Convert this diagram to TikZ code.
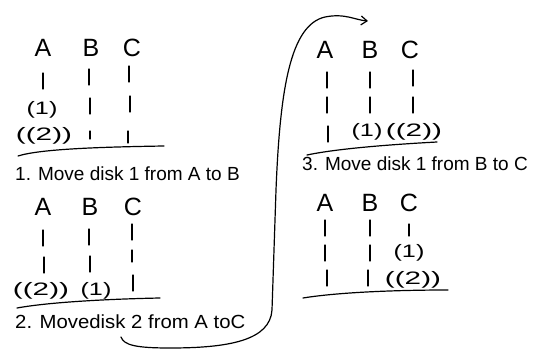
\documentclass[tikz,border=0pt]{standalone}
\usepackage{fontspec}
\setmainfont{Liberation Sans}
\usetikzlibrary{arrows.meta}
\tikzset{
  ink/.style={line width=1.2pt, line cap=round, line join=round, black},
  peglbl/.style={inner sep=0pt, font=\fontsize{25}{25}\selectfont},
  disk/.style={inner sep=0pt, font=\fontsize{18}{18}\selectfont},
  caption/.style={inner sep=0pt, anchor=west, font=\fontsize{19}{19}\selectfont},
}
\newcommand\pegbar[3][8]{\draw[ink] (#2,#3-#1) -- (#2,#3+#1);}
\newcommand\wide[2][1.4]{\scalebox{#1}[1]{#2}}
\begin{document}
\begin{tikzpicture}[x=1pt,y=-1pt]
\useasboundingbox (0,0) rectangle (539,350);
\fill[white] (0,0) rectangle (539,350);

% ---------- panel 1 ----------
\node[peglbl] (a1) at (43,48) {A};
\node[peglbl] (b1) at (91,48) {B};
\node[peglbl] (c1) at (132,48) {C};
\pegbar{43}{81}
\node[disk] (d11) at (42,110) {\wide{(1)}};
\node[disk] (d12) at (44,136) {\wide[1.65]{((2))}};
\pegbar{89}{77}
\pegbar{90}{106}
\pegbar[4]{90}{135}
\pegbar{129}{74}
\pegbar{130}{104}
\pegbar[6]{128}{137}
\draw[ink] (18,156) .. controls (40,149) and (100,147) .. (164,146);
\node[caption] (cap1) at (15,174) {1. Move disk 1 from A to B};

% ---------- panel 2 ----------
\node[peglbl] (a2) at (43,207) {A};
\node[peglbl] (b2) at (90,207) {B};
\node[peglbl] (c2) at (133,207) {C};
\pegbar{43}{238}
\pegbar{44}{265}
\pegbar{89}{237}
\pegbar{90}{264}
\pegbar{132}{232}
\pegbar[6]{132}{256}
\pegbar{133}{283}
\node[disk] (d22) at (41,291) {\wide[1.65]{((2))}};
\node[disk] (d21) at (96,291) {\wide{(1)}};
\draw[ink] (17,308) .. controls (50,302) and (110,299) .. (160,298);
\node[caption] (cap2) at (15,322) {\scalebox{1.07}[1]{2. Movedisk 2 from A toC}};

% ---------- panel 3 ----------
\node[peglbl] (a3) at (325,50) {A};
\node[peglbl] (b3) at (370,50) {B};
\node[peglbl] (c3) at (410,50) {C};
\pegbar{327}{80}
\pegbar{327}{105}
\pegbar{328}{134}
\pegbar{370}{80}
\pegbar{370}{105}
\pegbar{413}{78}
\pegbar{413}{105}
\node[disk] (d31) at (367,132) {\wide{(1)}};
\node[disk] (d32) at (414,132) {\wide[1.65]{((2))}};
\draw[ink] (307,155) .. controls (340,148) and (400,144) .. (437,142);
\node[caption] (cap3) at (302,164) {3. Move disk 1 from B to C};

% ---------- panel 4 ----------
\node[peglbl] (a4) at (325,203) {A};
\node[peglbl] (b4) at (370,203) {B};
\node[peglbl] (c4) at (409,203) {C};
\pegbar{325}{228}
\pegbar{325}{253}
\pegbar{327}{278}
\pegbar{370}{228}
\pegbar{370}{253}
\pegbar{368}{278}
\pegbar[6]{409}{230}
\node[disk] (d41) at (409,253) {\wide{(1)}};
\node[disk] (d42) at (413,280) {\wide[1.65]{((2))}};
\draw[ink] (303,298) .. controls (340,292) and (400,290) .. (448,290);

% ---------- curved arrow ----------
\coordinate (arrstart) at (121,337);
\coordinate (arrend) at (368,21);
\draw[ink, -{Straight Barb[length=6pt,width=9pt]}] (arrstart)
  .. controls (124,345) and (135,348) .. (170,348)
  .. controls (230,348) and (270,340) .. (272,310)
  -- (276,190)
  .. controls (280,90) and (290,25) .. (325,17)
  .. controls (345,13) and (355,20) .. (arrend);
\end{tikzpicture}
\end{document}
